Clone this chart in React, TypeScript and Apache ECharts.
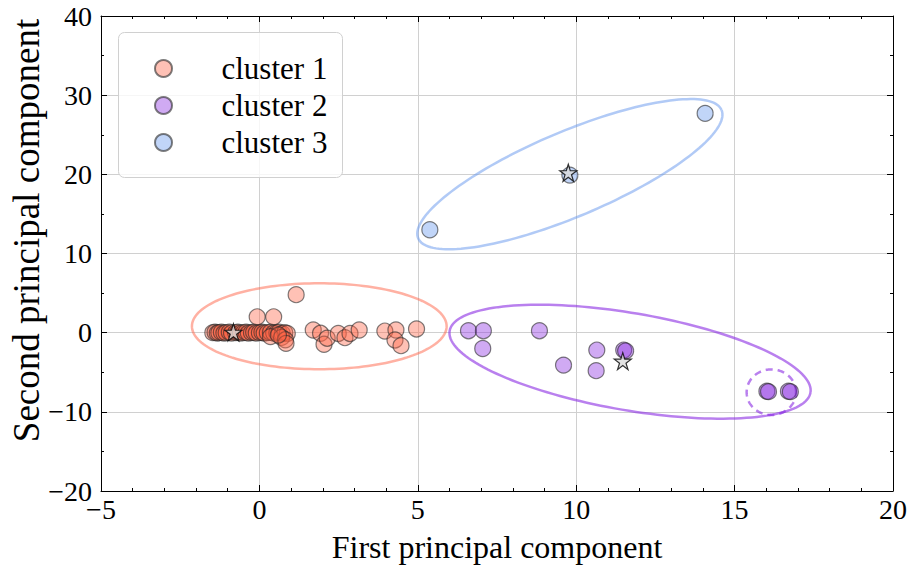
import React, { useEffect, useRef } from 'react';
import * as echarts from 'echarts';

// ---- data ----
const clusterNames = ['cluster 1', 'cluster 2', 'cluster 3'];

const cluster1Points: number[][] = [
  [-1.47, 0.0], [-1.40, 0.05], [-1.33, -0.05], [-1.28, 0.0], [-1.20, 0.05], [-1.12, -0.05],
  [-1.05, 0.0], [-0.95, 0.05], [-0.88, -0.05], [-0.75, 0.0], [-0.68, 0.05], [-0.60, -0.05],
  [-0.50, 0.0], [-0.42, 0.05], [-0.35, -0.05], [-0.25, 0.0], [-0.18, 0.05], [-0.10, -0.05],
  [0.0, 0.0], [0.08, 0.05], [0.15, -0.05], [0.25, 0.0], [0.35, 0.05], [0.45, -0.05],
  [0.55, 0.0], [0.62, 0.05], [0.72, -0.1], [0.80, 0.0], [0.88, -0.1],
  [0.35, -0.5], [0.70, -0.6], [0.82, -0.9], [0.84, -1.35], [0.60, -0.3],
  [-0.07, 2.0], [0.45, 2.0], [1.16, 4.8],
  [1.70, 0.34], [1.93, -0.08], [2.04, -1.47], [2.14, -0.7], [2.49, -0.1], [2.70, -0.63],
  [2.86, -0.1], [3.15, 0.34], [3.96, 0.2], [4.31, 0.34], [4.28, -0.92], [4.47, -1.64], [4.96, 0.47],
];

const cluster2Points: number[][] = [
  [6.6, 0.25], [7.07, 0.25], [7.05, -2.0], [8.84, 0.25], [9.6, -4.1], [10.65, -2.2],
  [10.63, -4.8], [11.5, -2.2], [11.56, -2.3], [16.02, -7.4], [16.07, -7.45],
  [16.7, -7.4], [16.76, -7.45],
];

const cluster3Points: number[][] = [
  [5.38, 13.0], [9.8, 19.9], [14.07, 27.7],
];

const centroidPoints: number[][] = [
  [-0.82, 0.05], [11.47, -3.6], [9.75, 20.2],
];

// ellipses: centre + cos(t)*A + sin(t)*B (data units)
const ellipseCenters: number[][] = [[1.89, 0.81], [11.70, -3.67], [9.80, 20.02], [16.16, -7.52]];
const ellipseAxisA: number[][] = [[4.02, 0], [5.695, -3.90], [4.788, 8.10], [0.78, 0]];
const ellipseAxisB: number[][] = [[0, 5.43], [-0.259, -6.05], [0.522, -4.94], [0, 2.88]];
const ellipseColors = ['rgba(255,99,71,0.5)', 'rgba(138,43,226,0.6)', 'rgba(100,149,237,0.5)', 'rgba(138,43,226,0.6)'];
const ellipseDashed = [false, false, false, true];

const pointColors = ['rgba(255,99,71,0.5)', 'rgba(138,43,226,0.5)', 'rgba(100,149,237,0.5)'];

const xMin = -5, xMax = 20, xInterval = 5;
const yMin = -20, yMax = 40, yInterval = 10;

const FONT = 'Liberation Serif';
const STAR = 'path://M50,0L61.2,34.6L97.6,34.5L68.1,55.9L79.4,90.5L50,69L20.6,90.5L31.9,55.9L2.4,34.5L38.8,34.6Z';

const fmt = (v: number) => String(v).replace('-', '\u2212');

export default function App() {
  const ref = useRef<HTMLDivElement>(null);
  useEffect(() => {
    document.body.style.margin = '0';
    const chart = echarts.init(ref.current!, null, { renderer: 'svg' });
    const tickCommon = {
      axisLine: { show: true, onZero: false, lineStyle: { color: '#000', width: 1 } },
      axisTick: { show: true, inside: true, length: 6, lineStyle: { color: '#000' } },
    };
    const labelStyle = { fontFamily: FONT, fontSize: 28, color: '#000', formatter: fmt };
    const option: any = {
      animation: false,
      textStyle: { fontFamily: FONT },
      grid: { left: 101, right: 19, top: 16, bottom: 74, containLabel: false, outerBoundsMode: 'none' },
      xAxis: [
        {
          type: 'value', min: xMin, max: xMax, interval: xInterval,
          name: 'First principal component', nameLocation: 'middle', nameGap: 40, nameMoveOverlap: false,
          nameTextStyle: { fontFamily: FONT, fontSize: 32, color: '#000' },
          axisLabel: { ...labelStyle, margin: 4 },
          splitLine: { show: true, lineStyle: { color: '#d0d0d0', width: 1 } },
          ...tickCommon,
          minorTick: { show: true, splitNumber: 5, length: 3, lineStyle: { color: '#000' } },
        },
        {
          type: 'value', position: 'top', min: xMin, max: xMax, interval: xInterval,
          axisLabel: { show: false }, splitLine: { show: false },
          ...tickCommon,
          minorTick: { show: true, splitNumber: 5, length: 3, lineStyle: { color: '#000' } },
        },
      ],
      yAxis: [
        {
          type: 'value', min: yMin, max: yMax, interval: yInterval,
          name: 'Second principal component', nameLocation: 'middle', nameGap: 56, nameMoveOverlap: false,
          nameTextStyle: { fontFamily: FONT, fontSize: 37, color: '#000', padding: [0, 0, 0, 46] },
          axisLabel: { ...labelStyle, margin: 9 },
          splitLine: { show: true, lineStyle: { color: '#d0d0d0', width: 1 } },
          ...tickCommon,
          minorTick: { show: true, splitNumber: 2, length: 3, lineStyle: { color: '#000' } },
        },
        {
          type: 'value', position: 'right', min: yMin, max: yMax, interval: yInterval,
          axisLabel: { show: false }, splitLine: { show: false },
          ...tickCommon,
          minorTick: { show: true, splitNumber: 2, length: 3, lineStyle: { color: '#000' } },
        },
      ],
      legend: {
        orient: 'vertical', left: 154, top: 53, padding: 0, itemGap: 6,
        itemWidth: 106, itemHeight: 17, z: 10,
        data: clusterNames.map((n) => ({ name: n, icon: 'circle' })),
        textStyle: { fontFamily: FONT, fontSize: 31, color: '#000' },
      },
      graphic: [
        {
          type: 'rect', z: 5, left: 118, top: 32,
          shape: { width: 224, height: 145, r: 6 },
          style: { fill: 'rgba(255,255,255,0.8)', stroke: '#d0d0d0', lineWidth: 1 },
        },
      ],
      series: [
        {
          type: 'custom', name: 'ellipses', z: 1, silent: true, clip: false,
          data: ellipseCenters,
          renderItem: (params: any, api: any) => {
            const i = params.dataIndex;
            const c = ellipseCenters[i], A = ellipseAxisA[i], B = ellipseAxisB[i];
            const pts: number[][] = [];
            for (let k = 0; k <= 160; k++) {
              const t = (k / 160) * Math.PI * 2;
              pts.push(api.coord([
                c[0] + Math.cos(t) * A[0] + Math.sin(t) * B[0],
                c[1] + Math.cos(t) * A[1] + Math.sin(t) * B[1],
              ]));
            }
            return {
              type: 'polyline',
              shape: { points: pts },
              style: {
                fill: 'none', stroke: ellipseColors[i], lineWidth: 2.5,
                lineDash: ellipseDashed[i] ? [7, 5] : null,
              },
            };
          },
        },
        ...[cluster1Points, cluster2Points, cluster3Points].map((pts, i) => ({
          type: 'scatter', name: clusterNames[i], z: 3, data: pts, symbolSize: 16,
          itemStyle: { color: pointColors[i], borderColor: 'rgba(40,40,40,0.75)', borderWidth: 1.2 },
        })),
        {
          type: 'scatter', name: 'centroids', z: 4, data: centroidPoints, symbol: STAR, symbolSize: 17,
          itemStyle: { color: '#dcdcdc', borderColor: '#000', borderWidth: 1.2 },
        },
      ],
    };
    chart.setOption(option);
    return () => chart.dispose();
  }, []);
  return <div ref={ref} style={{ width: 912, height: 565 }} />;
}
